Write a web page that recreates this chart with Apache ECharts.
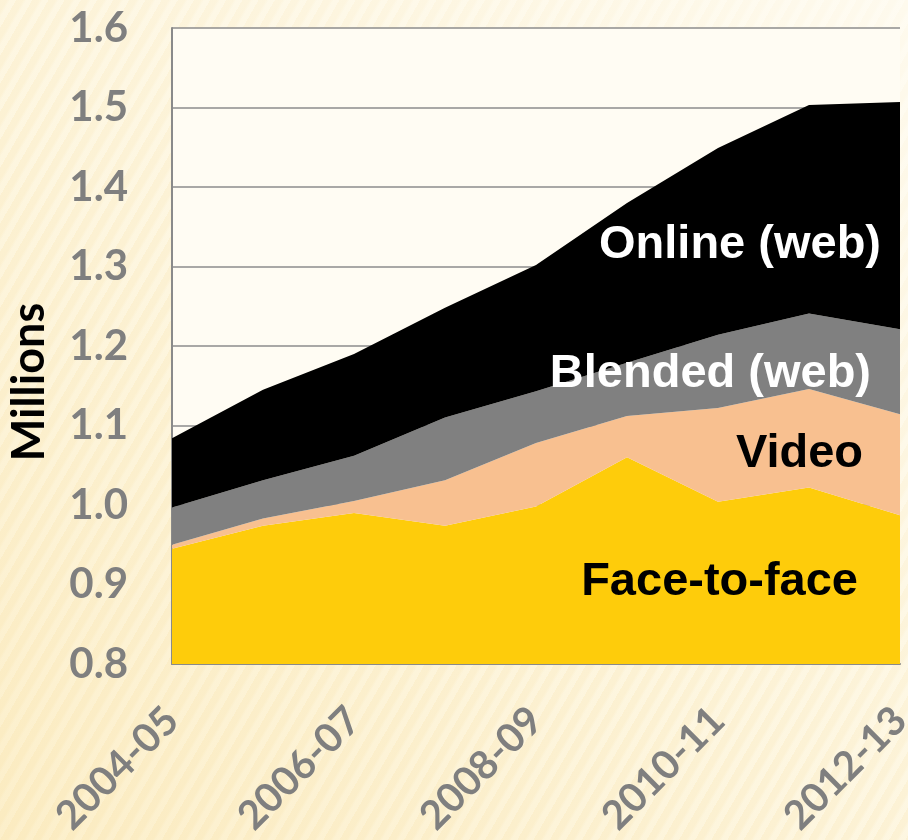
<!DOCTYPE html>
<html>
<head>
<meta charset="utf-8">
<script src="https://cdn.jsdelivr.net/npm/echarts@6/dist/echarts.min.js"></script>
<style>
  html, body { margin: 0; padding: 0; }
  body {
    width: 908px; height: 840px; overflow: hidden;
    background:
      linear-gradient(40deg, rgba(250, 228, 168, 0.45) 0%, rgba(252, 242, 210, 0.3) 45%, rgba(255, 253, 246, 0.75) 100%),
      repeating-linear-gradient(120deg, #fcf1d4 0px, #fcf1d4 6px, #fef8e6 9px, #fef8e6 14px);
  }
  #chart { width: 908px; height: 840px; }
</style>
</head>
<body>
<div id="chart"></div>
<script>
// years on the x axis
const years = ['2004-05', '2005-06', '2006-07', '2007-08', '2008-09', '2009-10', '2010-11', '2011-12', '2012-13']
// stacked layers, millions of students
const faceToFace = [0.945, 0.974, 0.990, 0.974, 0.998, 1.060, 1.004, 1.022, 0.987]
const video = [0.005, 0.009, 0.015, 0.057, 0.080, 0.052, 0.118, 0.124, 0.127]
const blended = [0.047, 0.048, 0.057, 0.079, 0.065, 0.067, 0.092, 0.095, 0.107]
const online = [0.087, 0.114, 0.128, 0.138, 0.159, 0.201, 0.235, 0.262, 0.286]
const yTicks = [0.8, 0.9, 1.0, 1.1, 1.2, 1.3, 1.4, 1.5, 1.6]

const chart = echarts.init(document.getElementById('chart'))

const layer = (name, data, color) => ({
  name: name,
  type: 'line',
  stack: 'total',
  data: data,
  showSymbol: false,
  symbol: 'none',
  lineStyle: { width: 0 },
  areaStyle: { color: color, opacity: 1 },
  itemStyle: { color: color }
})

// series names written inside the areas
const tag = (text, x, y, color) => ({
  type: 'text',
  x: x,
  y: y,
  z: 100,
  style: {
    text: text,
    fill: color,
    fontSize: 47,
    fontWeight: 'bold',
    fontFamily: '"Liberation Sans", Arial, sans-serif',
    align: 'right',
    verticalAlign: 'middle'
  }
})

chart.setOption({
  backgroundColor: 'transparent',
  animation: false,
  grid: {
    left: 172,
    right: 8,
    top: 28,
    bottom: 176,
    containLabel: false,
    outerBoundsMode: 'none',
    show: true,
    backgroundColor: '#fffcf3',
    borderWidth: 0
  },
  xAxis: {
    type: 'category',
    data: years,
    boundaryGap: false,
    axisLine: { lineStyle: { color: '#8a8a8a', width: 2 } },
    axisTick: { show: false },
    axisLabel: {
      interval: 1,
      rotate: 45,
      margin: 50,
      color: '#7f7f7f',
      fontSize: 40,
      fontWeight: 'bold',
      fontFamily: 'Lato, "Open Sans", sans-serif'
    }
  },
  yAxis: {
    type: 'value',
    min: yTicks[0],
    max: yTicks[yTicks.length - 1],
    interval: 0.1,
    axisLine: { show: true, lineStyle: { color: '#8a8a8a', width: 2 } },
    axisTick: { show: false },
    splitLine: { lineStyle: { color: '#8c8c8c', width: 1.5 } },
    axisLabel: {
      margin: 44,
      color: '#7f7f7f',
      fontSize: 42,
      fontWeight: 'bold',
      fontFamily: 'Lato, "Open Sans", sans-serif',
      formatter: v => v.toFixed(1)
    }
  },
  series: [
    layer('Face-to-face', faceToFace, '#fecc0b'),
    layer('Video', video, '#f8c090'),
    layer('Blended (web)', blended, '#808080'),
    layer('Online (web)', online, '#000000')
  ],
  graphic: [
    {
      type: 'text',
      x: 29,
      y: 382,
      rotation: Math.PI / 2,
      style: {
        text: 'Millions',
        fill: '#000',
        fontSize: 45,
        fontWeight: 'bold',
        fontFamily: 'Lato, "Open Sans", sans-serif',
        align: 'center',
        verticalAlign: 'middle'
      }
    },
    tag('Online (web)', 881, 245, '#ffffff'),
    tag('Blended (web)', 871, 374, '#ffffff'),
    tag('Video', 863, 454, '#000000'),
    tag('Face-to-face', 858, 582, '#000000')
  ]
})
</script>
</body>
</html>
